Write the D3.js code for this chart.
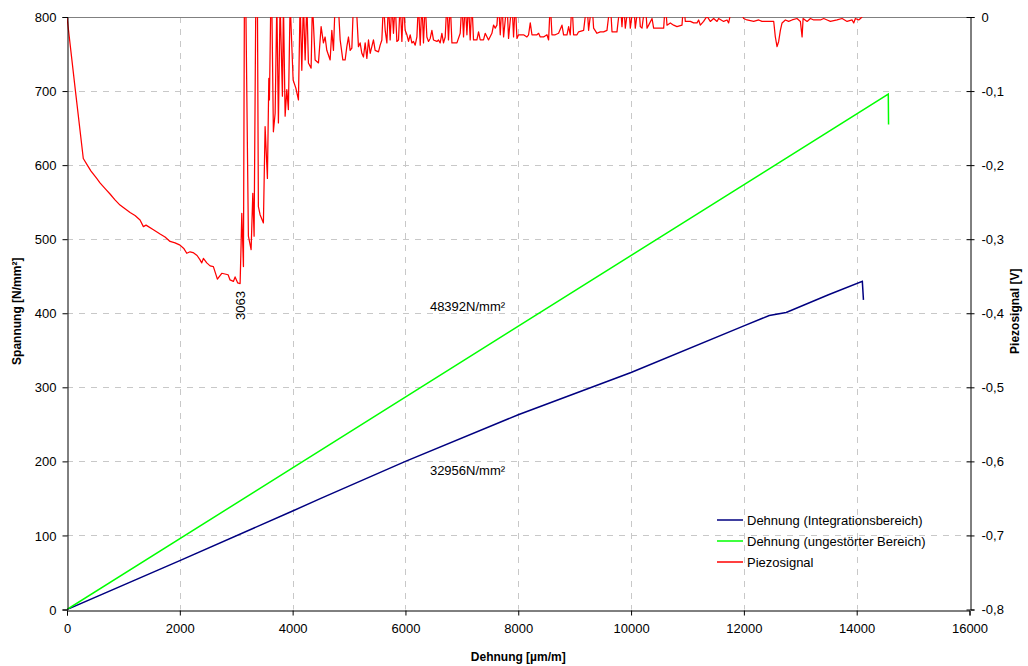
<!DOCTYPE html>
<html>
<head>
<meta charset="utf-8">
<script src="https://cdn.jsdelivr.net/npm/d3@7"></script>
<style>
  body { margin: 0; background: #fff; }
  text { font-family: "Liberation Sans", Arial, sans-serif; fill: #000; }
</style>
</head>
<body>
<script>
var width = 1028,
    height = 666,
    margin = { top: 17, right: 58, bottom: 56, left: 67 };

// x: Dehnung [µm/m], left y: Spannung [N/mm²], right y: Piezosignal [V]
var xTicks = [0, 2000, 4000, 6000, 8000, 10000, 12000, 14000, 16000];
var yTicks = [0, 100, 200, 300, 400, 500, 600, 700, 800];
var vTicks = [0, -0.1, -0.2, -0.3, -0.4, -0.5, -0.6, -0.7, -0.8];

var seriesNames = ["Dehnung (Integrationsbereich)", "Dehnung (ungestörter Bereich)", "Piezosignal"];
var seriesColors = ["#000080", "#00ff00", "#ff0000"];

var integration = [[0, 0], [2000, 66], [4000, 133], [4500, 150], [6000, 200], [8000, 263],
  [10000, 320], [12000, 383], [12450, 397], [12750, 401], [13500, 425], [14100, 443], [14120, 418]];

var undisturbed = [[0, 0], [14560, 696], [14565, 655]];

var piezo = [[0, 0], [150, -0.1], [289, -0.191], [360, -0.2], [426, -0.208], [527, -0.218], [585, -0.224],
  [644, -0.229], [692, -0.233], [763, -0.239], [851, -0.247], [940, -0.254], [1029, -0.259], [1118, -0.264],
  [1206, -0.268], [1295, -0.274], [1354, -0.283], [1401, -0.281], [1525, -0.287], [1650, -0.293],
  [1738, -0.297], [1827, -0.303], [1916, -0.305], [2004, -0.308], [2075, -0.313], [2123, -0.319],
  [2182, -0.317], [2235, -0.318], [2306, -0.322], [2359, -0.328], [2389, -0.332], [2418, -0.326],
  [2478, -0.332], [2537, -0.336], [2595, -0.337], [2666, -0.354], [2744, -0.346], [2856, -0.348],
  [2891, -0.355], [2950, -0.357], [2980, -0.351], [3027, -0.359], [3069, -0.36], [3087, -0.305],
  [3099, -0.265], [3128, -0.337], [3145, 0.02], [3170, 0.02], [3216, -0.296], [3264, -0.314],
  [3294, -0.238], [3317, -0.296], [3347, 0.02], [3376, 0.02], [3393, -0.256], [3423, -0.267],
  [3482, -0.278], [3512, -0.148], [3553, -0.218], [3578, -0.083], [3589, -0.112], [3613, 0.02],
  [3631, 0.02], [3659, -0.155], [3690, -0.13], [3720, 0.02], [3748, -0.143], [3778, 0.02],
  [3819, -0.107], [3837, 0.02], [3867, -0.134], [3897, -0.098], [3925, -0.125], [3956, 0.02],
  [4009, -0.085], [4057, -0.096], [4103, -0.112], [4133, 0.02], [4163, -0.072], [4191, 0.02],
  [4222, -0.058], [4252, 0.02], [4280, -0.062], [4328, -0.069], [4351, 0.02], [4399, -0.058],
  [4458, -0.062], [4505, -0.013], [4546, -0.035], [4576, -0.027], [4606, -0.045], [4665, -0.058],
  [4695, -0.018], [4724, -0.045], [4754, 0.02], [4807, 0.02], [4843, -0.031], [4890, -0.058],
  [4931, -0.058], [4961, -0.04], [4990, -0.027], [5020, -0.045], [5050, -0.042], [5079, 0.02],
  [5126, 0.02], [5167, -0.04], [5197, -0.035], [5227, -0.049], [5256, -0.054], [5286, -0.035],
  [5316, -0.056], [5345, -0.031], [5375, -0.049], [5404, -0.04], [5433, -0.031], [5463, -0.045],
  [5522, -0.047], [5552, -0.038], [5582, -0.031], [5610, 0.02], [5641, -0.018], [5671, -0.035],
  [5699, 0.02], [5729, -0.031], [5759, 0.02], [5788, -0.022], [5818, 0.02], [5848, -0.033],
  [5877, -0.031], [5907, 0.02], [5937, -0.033], [5965, 0.02], [5995, -0.018], [6026, -0.024],
  [6055, -0.033], [6084, -0.024], [6114, -0.035], [6143, -0.033], [6173, -0.038], [6203, -0.027],
  [6231, 0.02], [6262, -0.038], [6292, 0.02], [6320, -0.035], [6350, 0.02], [6380, -0.027],
  [6409, -0.033], [6439, -0.029], [6469, -0.018], [6497, -0.031], [6558, -0.033], [6586, -0.031],
  [6616, -0.035], [6646, -0.022], [6675, -0.035], [6705, -0.027], [6735, 0.02], [6763, -0.031],
  [6794, 0.02], [6824, -0.035], [6913, -0.035], [6971, -0.022], [7001, 0.02], [7030, -0.027],
  [7060, 0.02], [7090, -0.024], [7118, 0.02], [7148, -0.031], [7178, 0.02], [7207, -0.031],
  [7267, -0.031], [7296, -0.02], [7326, -0.031], [7384, -0.031], [7414, -0.022], [7473, -0.031],
  [7533, -0.022], [7562, -0.011], [7592, -0.015], [7622, -0.011], [7650, 0.02], [7681, -0.024],
  [7711, 0.02], [7740, -0.027], [7800, 0.02], [7828, -0.029], [7888, 0.02], [7917, -0.027],
  [7947, 0.02], [7977, -0.029], [8006, -0.024], [8094, -0.024], [8154, -0.027], [8183, -0.024],
  [8213, -0.008], [8243, -0.024], [8332, -0.024], [8361, -0.022], [8390, -0.027], [8449, -0.027],
  [8509, -0.024], [8538, -0.031], [8568, 0.02], [8597, -0.024], [8656, -0.024], [8715, -0.022],
  [8775, -0.011], [8804, -0.024], [8864, -0.024], [8893, -0.013], [8922, -0.024], [8952, 0.02],
  [8981, -0.024], [9041, -0.024], [9070, -0.02], [9159, -0.018], [9218, 0.02], [9247, -0.018],
  [9307, 0.02], [9336, -0.015], [9396, -0.022], [9454, -0.02], [9513, -0.02], [9573, -0.018],
  [9632, 0.02], [9662, -0.02], [9750, -0.02], [9809, 0.02], [9839, -0.013], [9868, 0.02],
  [9898, -0.015], [9957, 0.02], [9987, -0.015], [10045, 0.02], [10075, -0.015], [10134, 0.02],
  [10164, -0.013], [10194, -0.015], [10252, 0.02], [10283, -0.015], [10312, -0.011], [10372, -0.002],
  [10400, -0.015], [10489, -0.015], [10578, -0.015], [10608, 0.02], [10637, -0.011], [10696, -0.008],
  [10755, -0.011], [10814, -0.013], [10903, -0.011], [10932, 0.02], [10962, -0.006], [11051, -0.006],
  [11109, -0.008], [11169, -0.008], [11198, -0.004], [11228, -0.011], [11286, -0.006], [11346, 0.001],
  [11405, -0.006], [11464, -0.002], [11524, -0.006], [11552, -0.002], [11641, -0.006], [11701, -0.004],
  [11730, -0.008], [11760, 0.003], [11967, 0.003], [11996, -0.002], [12056, -0.004], [12174, -0.006],
  [12263, -0.004], [12321, -0.006], [12469, -0.006], [12529, -0.006], [12558, -0.027], [12588, -0.04],
  [12617, -0.033], [12647, -0.018], [12677, -0.008], [12736, -0.004], [12794, -0.006], [12854, -0.004],
  [12942, -0.002], [13002, -0.006], [13032, -0.027], [13050, -0.002], [13121, -0.006], [13180, -0.002],
  [13238, -0.004], [13357, -0.004], [13416, -0.002], [13476, -0.004], [13534, -0.006], [13653, -0.004],
  [13742, -0.002], [13830, -0.006], [13919, -0.004], [13947, -0.008], [13977, -0.002], [14036, -0.004],
  [14096, 0]];

// labels: [x, y, text]; first one sits on the piezo scale
var annotations = [[3063, -0.362, "3063"], [7100, 403, "48392N/mm²"], [7100, 181, "32956N/mm²"]];

var x = d3.scaleLinear().domain([0, 16000]).range([margin.left, width - margin.right - 0.5]);
var y = d3.scaleLinear().domain([0, 800]).range([height - margin.bottom - 0.5, margin.top]);
var yv = d3.scaleLinear().domain([-0.8, 0]).range([height - margin.bottom - 0.5, margin.top]);

var svg = d3.select("body").append("svg")
    .attr("width", width)
    .attr("height", height);

svg.append("clipPath")
    .attr("id", "clip")
    .append("rect")
    .attr("x", x(0))
    .attr("y", y(800))
    .attr("width", x(16000) - x(0))
    .attr("height", y(0) - y(800));

// grid
svg.append("g").selectAll("line")
    .data(xTicks.slice(1, -1))
    .enter().append("line")
    .attr("x1", function(d) { return Math.round(x(d)) + 0.5; })
    .attr("x2", function(d) { return Math.round(x(d)) + 0.5; })
    .attr("y1", y(800))
    .attr("y2", y(0))
    .attr("stroke", "#c8c8c8")
    .attr("stroke-dasharray", "6,6");

svg.append("g").selectAll("line")
    .data(yTicks.slice(1, -1))
    .enter().append("line")
    .attr("y1", function(d) { return Math.round(y(d)) + 0.5; })
    .attr("y2", function(d) { return Math.round(y(d)) + 0.5; })
    .attr("x1", x(0))
    .attr("x2", x(16000))
    .attr("stroke", "#c8c8c8")
    .attr("stroke-dasharray", "6,6");

svg.append("line")
    .attr("x1", x(0)).attr("x2", x(16000))
    .attr("y1", Math.round(y(800)) + 0.5).attr("y2", Math.round(y(800)) + 0.5)
    .attr("stroke", "#808080");

// series
var lineL = d3.line().x(function(d) { return x(d[0]); }).y(function(d) { return y(d[1]); });
var lineV = d3.line().x(function(d) { return x(d[0]); }).y(function(d) { return yv(d[1]); });

var plot = svg.append("g").attr("clip-path", "url(#clip)");

plot.append("path").datum(integration)
    .attr("d", lineL).attr("fill", "none")
    .attr("stroke", seriesColors[0]).attr("stroke-width", 1.5);

plot.append("path").datum(undisturbed)
    .attr("d", lineL).attr("fill", "none")
    .attr("stroke", seriesColors[1]).attr("stroke-width", 1.5);

plot.append("path").datum(piezo)
    .attr("d", lineV).attr("fill", "none")
    .attr("stroke", seriesColors[2]).attr("stroke-width", 1.25)
    .attr("stroke-linejoin", "round");

// axes
var fmtV = function(d) { return d === 0 ? "0" : d3.format(".1f")(d).replace(".", ",").replace("−", "-"); };

var gx = svg.append("g")
    .attr("transform", "translate(0," + (Math.round(y(0)) + 0.5) + ")")
    .call(d3.axisBottom(x).tickValues(xTicks).tickSize(5).tickPadding(6).tickFormat(d3.format("d")));

var gy = svg.append("g")
    .attr("transform", "translate(" + (Math.round(x(0)) + 0.5) + ",0)")
    .call(d3.axisLeft(y).tickValues(yTicks).tickSize(5).tickPadding(6));

var gv = svg.append("g")
    .attr("transform", "translate(" + (Math.round(x(16000)) + 0.5) + ",0)")
    .call(d3.axisRight(yv).tickValues(vTicks).tickSize(4).tickPadding(7).tickFormat(fmtV));

gv.selectAll(".tick line").attr("x1", -4);

[gx, gy, gv].forEach(function(g) {
  g.selectAll("text").style("font-family", "Liberation Sans, Arial, sans-serif").style("font-size", "13px");
  g.select(".domain").attr("stroke", "#000");
});
gy.selectAll(".tick text").attr("dy", "0.35em");
gx.selectAll(".tick text").attr("dy", "0.9em");

// axis titles
svg.append("text")
    .attr("x", (x(0) + x(16000)) / 2)
    .attr("y", 661)
    .attr("text-anchor", "middle")
    .style("font-weight", "bold").style("font-size", "12px")
    .text("Dehnung [µm/m]");

svg.append("text")
    .attr("transform", "translate(21," + (y(400) - 2) + ") rotate(-90)")
    .attr("text-anchor", "middle")
    .style("font-weight", "bold").style("font-size", "12px")
    .text("Spannung [N/mm²]");

svg.append("text")
    .attr("transform", "translate(1019," + (y(400) - 2) + ") rotate(-90)")
    .attr("text-anchor", "middle")
    .style("font-weight", "bold").style("font-size", "12px")
    .text("Piezosignal [V]");

// annotations
svg.append("text")
    .attr("transform", "translate(" + (x(annotations[0][0]) + 5) + "," + (yv(annotations[0][1]) + 6) + ") rotate(-90)")
    .attr("text-anchor", "end")
    .style("font-size", "13px")
    .text(annotations[0][2]);

svg.selectAll(".ann")
    .data(annotations.slice(1))
    .enter().append("text")
    .attr("x", function(d) { return x(d[0]); })
    .attr("y", function(d) { return y(d[1]); })
    .attr("text-anchor", "middle")
    .style("font-size", "13px")
    .text(function(d) { return d[2]; });

// legend
var legend = svg.append("g").attr("transform", "translate(717,520)");
var li = legend.selectAll("g")
    .data(seriesNames)
    .enter().append("g")
    .attr("transform", function(d, i) { return "translate(0," + i * 21 + ")"; });

li.append("line")
    .attr("x1", 0).attr("x2", 26)
    .attr("stroke", function(d, i) { return seriesColors[i]; })
    .attr("stroke-width", 1.5);

li.append("text")
    .attr("x", 30)
    .attr("dy", "0.35em")
    .style("font-size", "13px")
    .text(function(d) { return d; });
</script>
</body>
</html>
